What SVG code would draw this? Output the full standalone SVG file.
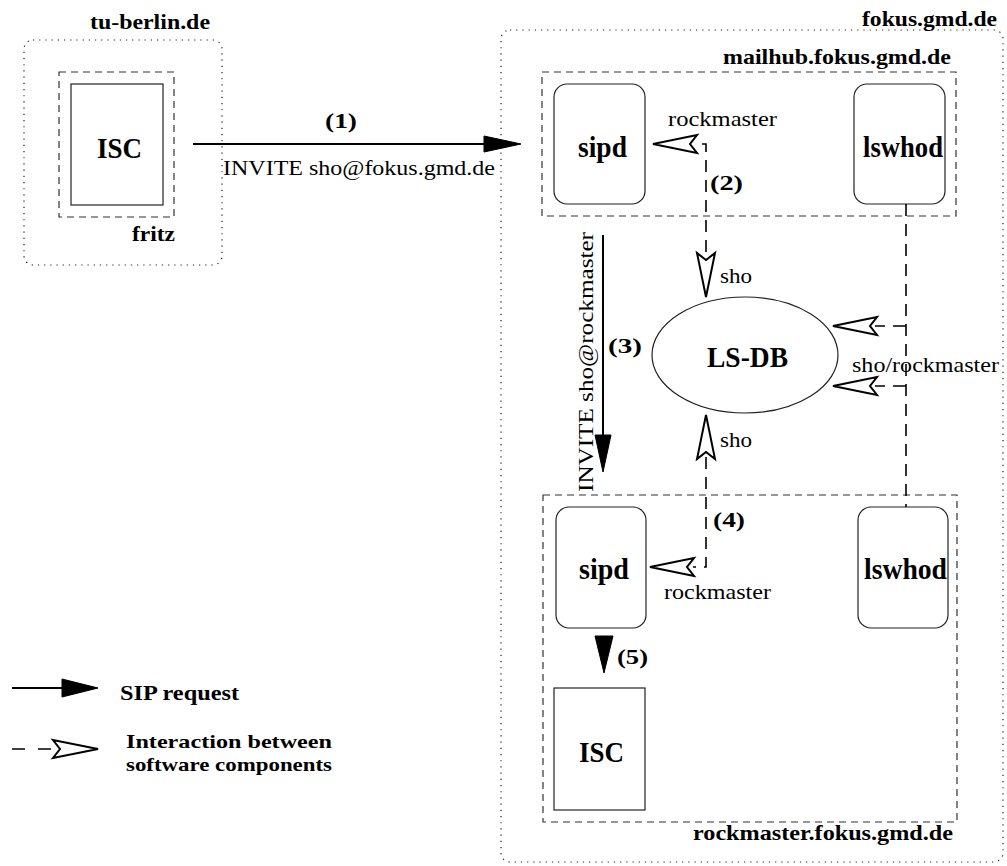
<svg xmlns="http://www.w3.org/2000/svg" xmlns:xlink="http://www.w3.org/1999/xlink" width="1007" height="866" viewBox="0 0 1007 866">
  <style>
    .domain { fill: none; stroke: #222; stroke-width: 1.2; stroke-dasharray: 1.2 5; }
    .host { fill: none; stroke: #333; stroke-width: 1.2; stroke-dasharray: 7 5; }
    .box { fill: #fff; stroke: #222; stroke-width: 1.2; }
    .solid { fill: none; stroke: #000; stroke-width: 2; }
    .dash { fill: none; stroke: #000; stroke-width: 1.6; stroke-dasharray: 12 8; }
    .head-fill { fill: #000; stroke: #000; stroke-width: 1; }
    .head-open { fill: #fff; stroke: #000; stroke-width: 2; stroke-linejoin: miter; }
    text { font-family: "Liberation Serif", "Times New Roman", serif; fill: #000; }
    .lbl { font-size: 22px; font-weight: bold; }
    .key { font-size: 19px; font-weight: bold; }
    .node { font-size: 30px; font-weight: bold; }
    .msg { font-size: 22px; }
  </style>
  <defs>
    <path id="fill-head" d="M0,0 L-37,-8 L-37,8 Z"/>
    <path id="open-head" d="M0,0 L-44,-9 L-37,0 L-44,9 Z"/>
  </defs>

  <!-- administrative domains -->
  <g id="tu-berlin">
    <rect class="domain" x="24" y="40" width="198" height="225" rx="9"/>
    <text class="lbl" x="90" y="29" textLength="120" lengthAdjust="spacingAndGlyphs">tu-berlin.de</text>
  </g>
  <g id="fokus">
    <rect class="domain" x="501" y="30" width="502" height="832" rx="9"/>
    <text class="lbl" x="862" y="26" textLength="135" lengthAdjust="spacingAndGlyphs">fokus.gmd.de</text>
  </g>

  <!-- hosts -->
  <g id="fritz">
    <rect class="host" x="59" y="72" width="115" height="145"/>
    <text class="lbl" x="132" y="241" textLength="43" lengthAdjust="spacingAndGlyphs">fritz</text>
  </g>
  <g id="mailhub">
    <rect class="host" x="542" y="72" width="414" height="144"/>
    <text class="lbl" x="723" y="64" textLength="228" lengthAdjust="spacingAndGlyphs">mailhub.fokus.gmd.de</text>
  </g>
  <g id="rockmaster">
    <rect class="host" x="543" y="495" width="414" height="327"/>
    <text class="lbl" x="693" y="840" textLength="260" lengthAdjust="spacingAndGlyphs">rockmaster.fokus.gmd.de</text>
  </g>

  <!-- software components -->
  <g id="isc-fritz">
    <rect class="box" x="71" y="84" width="92" height="121"/>
    <text class="node" x="97" y="158" textLength="45" lengthAdjust="spacingAndGlyphs">ISC</text>
  </g>
  <g id="sipd-mailhub">
    <rect class="box" x="554" y="84" width="91" height="120" rx="13"/>
    <text class="node" x="578" y="157" textLength="49" lengthAdjust="spacingAndGlyphs">sipd</text>
  </g>
  <g id="lswhod-mailhub">
    <rect class="box" x="854" y="84" width="91" height="120" rx="13"/>
    <text class="node" x="863" y="157" textLength="80" lengthAdjust="spacingAndGlyphs">lswhod</text>
  </g>
  <g id="ls-db">
    <ellipse class="box" cx="745" cy="355" rx="93" ry="58"/>
    <text class="node" x="707" y="367" textLength="81" lengthAdjust="spacingAndGlyphs">LS-DB</text>
  </g>
  <g id="sipd-rockmaster">
    <rect class="box" x="556" y="507" width="90" height="121" rx="13"/>
    <text class="node" x="579" y="579" textLength="50" lengthAdjust="spacingAndGlyphs">sipd</text>
  </g>
  <g id="lswhod-rockmaster">
    <rect class="box" x="858" y="507" width="90" height="121" rx="13"/>
    <text class="node" x="864" y="579" textLength="83" lengthAdjust="spacingAndGlyphs">lswhod</text>
  </g>
  <g id="isc-rockmaster">
    <rect class="box" x="554" y="688" width="91" height="122"/>
    <text class="node" x="579" y="762" textLength="45" lengthAdjust="spacingAndGlyphs">ISC</text>
  </g>

  <!-- connectors -->
  <g id="connectors">
    <!-- (1) INVITE from fritz to mailhub -->
    <line class="solid" x1="193" y1="144" x2="487" y2="144"/>
    <use href="#fill-head" class="head-fill" transform="translate(521,144)"/>
    <text class="lbl" x="325" y="128" textLength="32" lengthAdjust="spacingAndGlyphs">(1)</text>
    <text class="msg" x="223" y="175" textLength="272" lengthAdjust="spacingAndGlyphs">INVITE sho@fokus.gmd.de</text>

    <!-- (2) sipd queries LS-DB -->
    <path class="dash" d="M706,252 V144 H697"/>
    <use href="#open-head" class="head-open" transform="translate(653,144) rotate(180)"/>
    <use href="#open-head" class="head-open" transform="translate(706,297) rotate(90)"/>
    <text class="msg" x="668" y="126" textLength="109" lengthAdjust="spacingAndGlyphs">rockmaster</text>
    <text class="lbl" x="710" y="190" textLength="33" lengthAdjust="spacingAndGlyphs">(2)</text>
    <text class="msg" x="720" y="283" textLength="32" lengthAdjust="spacingAndGlyphs">sho</text>

    <!-- lswhod updates LS-DB -->
    <path class="dash" d="M906,204 V507"/>
    <path class="dash" d="M906,326 H875 M906,386 H875" style="stroke-dasharray:13 8"/>
    <use href="#open-head" class="head-open" transform="translate(833,326) rotate(180)"/>
    <use href="#open-head" class="head-open" transform="translate(833,386) rotate(180)"/>
    <text class="msg" x="852" y="372" textLength="147" lengthAdjust="spacingAndGlyphs">sho/rockmaster</text>

    <!-- (3) INVITE forwarded to rockmaster -->
    <line class="solid" x1="603" y1="235" x2="603" y2="440"/>
    <use href="#fill-head" class="head-fill" transform="translate(603,472) rotate(90)"/>
    <text class="msg" transform="translate(593,492) rotate(-90)" textLength="260" lengthAdjust="spacingAndGlyphs">INVITE sho@rockmaster</text>
    <text class="lbl" x="608" y="353" textLength="34" lengthAdjust="spacingAndGlyphs">(3)</text>

    <!-- (4) sipd on rockmaster queries LS-DB -->
    <path class="dash" d="M706,457 V567 H693"/>
    <use href="#open-head" class="head-open" transform="translate(706,415) rotate(-90)"/>
    <use href="#open-head" class="head-open" transform="translate(650,567) rotate(180)"/>
    <text class="msg" x="720" y="447" textLength="32" lengthAdjust="spacingAndGlyphs">sho</text>
    <text class="lbl" x="713" y="527" textLength="32" lengthAdjust="spacingAndGlyphs">(4)</text>
    <text class="msg" x="664" y="599" textLength="107" lengthAdjust="spacingAndGlyphs">rockmaster</text>

    <!-- (5) delivery to local ISC -->
    <path class="head-fill" d="M604,673 L595,636 L613,636 Z"/>
    <text class="lbl" x="617" y="664" textLength="31" lengthAdjust="spacingAndGlyphs">(5)</text>
  </g>

  <!-- legend -->
  <g id="legend">
    <line class="solid" x1="12" y1="688" x2="62" y2="688"/>
    <path class="head-fill" d="M98,688 L62,679 L62,697 Z"/>
    <text class="lbl" x="120" y="700" textLength="119" lengthAdjust="spacingAndGlyphs">SIP request</text>
    <path class="dash" d="M12,749 H53" style="stroke-dasharray:13 13"/>
    <path class="head-open" d="M98,749 L53,740 L60,749 L53,758 Z"/>
    <text class="key" x="126" y="748" textLength="206" lengthAdjust="spacingAndGlyphs">Interaction between</text>
    <text class="key" x="126" y="771" textLength="206" lengthAdjust="spacingAndGlyphs">software components</text>
  </g>
</svg>
